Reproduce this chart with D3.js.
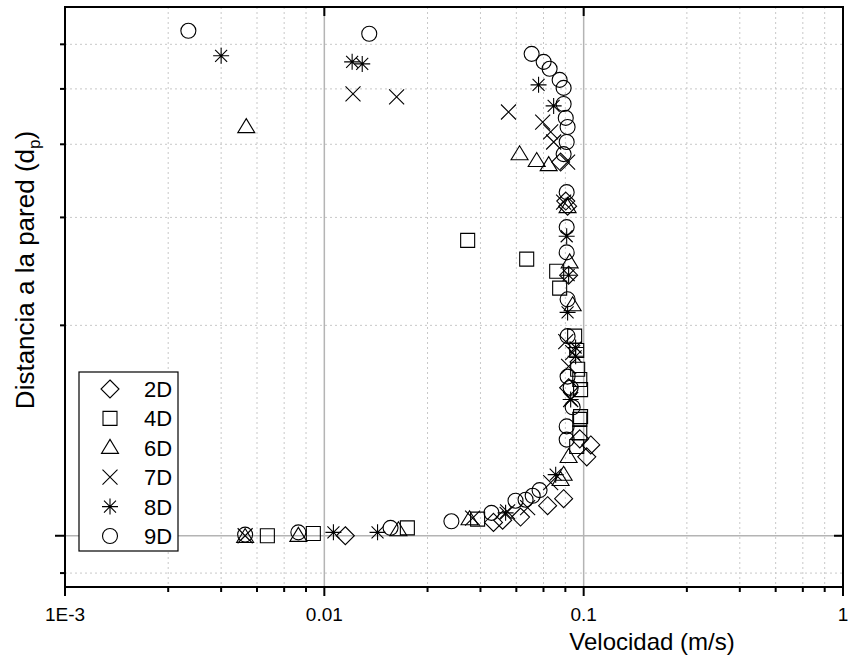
<!DOCTYPE html>
<html>
<head>
<meta charset="utf-8">
<script src="https://cdn.jsdelivr.net/npm/d3@7"></script>
<style>
  body { margin: 0; background: #fff; }
  svg { display: block; font-family: "Liberation Sans", Arial, sans-serif; }
</style>
</head>
<body>
<svg id="chart" width="848" height="660"></svg>
<script>
// Series data: [velocity (m/s), distance to wall (d_p)]
const s2D = [[0.01205, 2.00], [0.0449, 2.12], [0.0487, 2.14], [0.0571, 2.17], [0.0726, 2.28], [0.0837, 2.35],
  [0.1028, 2.82], [0.1065, 2.97], [0.0966, 3.05], [0.0875, 3.81], [0.0867, 8.40], [0.0853, 8.59], [0.0815, 10.18], [0.0875, 6.22]];
const s4D = [[0.00603, 2.00], [0.00907, 2.02], [0.0209, 2.07], [0.0390, 2.15], [0.0357, 7.24], [0.0603, 6.67],
  [0.0787, 6.33], [0.0808, 5.88], [0.0923, 4.77], [0.0940, 4.48], [0.0948, 4.13], [0.0966, 3.95], [0.0973, 3.78],
  [0.0973, 3.36], [0.0966, 3.32], [0.0966, 3.13], [0.0940, 2.95]];
const s6D = [[0.00495, 1.99], [0.00794, 2.00], [0.0193, 2.05], [0.0363, 2.15], [0.0815, 2.55], [0.0837, 2.61],
  [0.0875, 2.82], [0.0883, 6.58], [0.0907, 5.46], [0.0659, 10.23], [0.0566, 10.54], [0.0733, 10.05], [0.0867, 8.37], [0.0050, 11.86]];
const s7D = [[0.00495, 2.00], [0.0373, 2.16], [0.0509, 2.22], [0.0608, 2.26], [0.0746, 2.52], [0.0129, 13.70],
  [0.0190, 13.52], [0.0513, 12.66], [0.0695, 12.12], [0.0746, 11.61], [0.0766, 11.11], [0.0867, 10.18],
  [0.0837, 8.55], [0.0853, 4.66], [0.0907, 4.44], [0.0875, 4.18], [0.0891, 3.62]];
const s8D = [[0.01084, 2.03], [0.01604, 2.03], [0.0500, 2.21], [0.0780, 2.61], [0.0128, 15.75], [0.0140, 15.61],
  [0.00400, 16.17], [0.0670, 14.25], [0.0766, 13.00], [0.0860, 7.37], [0.0875, 6.22], [0.0867, 5.29],
  [0.0931, 4.54], [0.0931, 4.37], [0.0891, 3.62]];
const s9D = [[0.00495, 2.01], [0.00794, 2.03], [0.0180, 2.07], [0.0309, 2.13], [0.0441, 2.21], [0.0546, 2.33],
  [0.0597, 2.34], [0.0636, 2.38], [0.0676, 2.44], [0.0149, 17.80], [0.00299, 18.03], [0.0630, 16.31],
  [0.0701, 15.75], [0.0739, 15.28], [0.0808, 14.56], [0.0837, 14.06], [0.0837, 13.11], [0.0853, 12.34],
  [0.0867, 11.86], [0.0860, 11.11], [0.0837, 10.54], [0.0860, 8.93], [0.0860, 7.67], [0.0860, 6.87],
  [0.0867, 5.60], [0.0867, 4.77], [0.0867, 4.00], [0.0891, 3.81], [0.0907, 3.50], [0.0860, 3.22], [0.0860, 3.04]];

const seriesNames = ["2D", "4D", "6D", "7D", "8D", "9D"];
const seriesShapes = ["diamond", "square", "triangle", "x", "star", "circle"];
const seriesData = [s2D, s4D, s6D, s7D, s8D, s9D];

const xMajorTicks = [0.001, 0.01, 0.1, 1];
const xTickLabels = ["1E-3", "0.01", "0.1", "1"];
const xMinorSteps = [2.5, 4, 5.5, 7, 8.5];
const yMajorTicks = [2];
const yMinorTicks = [1.7, 5, 8, 11, 14, 17];

const xTitle = "Velocidad (m/s)";

// Layout
const plot = { left: 65, right: 843, top: 7, bottom: 587 };

const x = d3.scaleLog().domain([0.001, 1]).range([plot.left, plot.right]);
const y = d3.scaleLog().domain([1.6, 20]).range([plot.bottom, plot.top]);

const svg = d3.select("#chart");

const xMinorTicks = [];
xMajorTicks.slice(0, -1).forEach(m => xMinorSteps.forEach(s => xMinorTicks.push(m * s)));

// Grid
const grid = svg.append("g");
grid.selectAll(".gx-minor").data(xMinorTicks).join("line")
  .attr("x1", d => x(d)).attr("x2", d => x(d))
  .attr("y1", plot.top).attr("y2", plot.bottom)
  .attr("stroke", "#c8c8c8").attr("stroke-width", 1).attr("stroke-dasharray", "2,3");
grid.selectAll(".gy-minor").data(yMinorTicks).join("line")
  .attr("y1", d => y(d)).attr("y2", d => y(d))
  .attr("x1", plot.left).attr("x2", plot.right)
  .attr("stroke", "#c8c8c8").attr("stroke-width", 1).attr("stroke-dasharray", "2,3");
grid.selectAll(".gx-major").data([0.01, 0.1]).join("line")
  .attr("x1", d => x(d)).attr("x2", d => x(d))
  .attr("y1", plot.top).attr("y2", plot.bottom)
  .attr("stroke", "#b4b4b4").attr("stroke-width", 1.5);
grid.selectAll(".gy-major").data(yMajorTicks).join("line")
  .attr("y1", d => y(d)).attr("y2", d => y(d))
  .attr("x1", plot.left).attr("x2", plot.right)
  .attr("stroke", "#b4b4b4").attr("stroke-width", 1.5);

// Marker paths
function markerPath(shape) {
  switch (shape) {
    case "diamond": { const r = 9; return `M0,${-r}L${r},0L0,${r}L${-r},0Z`; }
    case "square": { const r = 7; return `M${-r},${-r}H${r}V${r}H${-r}Z`; }
    case "triangle": { const w = 8.5, h = 14; return `M0,${-h * 0.6}L${w},${h * 0.4}L${-w},${h * 0.4}Z`; }
    case "x": { const r = 7.5; return `M${-r},${-r}L${r},${r}M${-r},${r}L${r},${-r}`; }
    case "star": { const r = 8, d = 6; return `M0,${-r}V${r}M${-d},${-d}L${d},${d}M${-d},${d}L${d},${-d}M${-r},0H${r}`; }
    default: { const r = 7.5; return `M${r},0A${r},${r} 0 1,1 ${-r},0A${r},${r} 0 1,1 ${r},0Z`; }
  }
}

// Points
seriesData.forEach((data, i) => {
  svg.append("g").selectAll("path").data(data).join("path")
    .attr("transform", d => `translate(${x(d[0])},${y(d[1])})`)
    .attr("d", markerPath(seriesShapes[i]))
    .attr("fill", "none")
    .attr("stroke", "#000")
    .attr("stroke-width", 1.1);
});

// Axes frame
const axes = svg.append("g").attr("stroke", "#000");
axes.append("rect").attr("x", plot.left).attr("y", plot.top)
  .attr("width", plot.right - plot.left).attr("height", plot.bottom - plot.top)
  .attr("fill", "none").attr("stroke-width", 2);

// Bottom ticks
axes.selectAll(".xt-major").data(xMajorTicks).join("line")
  .attr("x1", d => x(d)).attr("x2", d => x(d)).attr("y1", plot.bottom).attr("y2", plot.bottom + 9).attr("stroke-width", 2);
axes.selectAll(".xt-minor").data(xMinorTicks).join("line")
  .attr("x1", d => x(d)).attr("x2", d => x(d)).attr("y1", plot.bottom).attr("y2", plot.bottom + 5).attr("stroke-width", 2);
// Top ticks (inward, major)
axes.selectAll(".xt-top").data(xMajorTicks).join("line")
  .attr("x1", d => x(d)).attr("x2", d => x(d)).attr("y1", plot.top).attr("y2", plot.top + 9).attr("stroke-width", 2);
// Left ticks
axes.selectAll(".yt-major").data(yMajorTicks).join("line")
  .attr("y1", d => y(d)).attr("y2", d => y(d)).attr("x1", plot.left - 10).attr("x2", plot.left).attr("stroke-width", 2);
axes.selectAll(".yt-minor").data(yMinorTicks).join("line")
  .attr("y1", d => y(d)).attr("y2", d => y(d)).attr("x1", plot.left - 5).attr("x2", plot.left).attr("stroke-width", 2);
// Right ticks (inward, major)
axes.selectAll(".yt-right").data(yMajorTicks).join("line")
  .attr("y1", d => y(d)).attr("y2", d => y(d)).attr("x1", plot.right - 9).attr("x2", plot.right).attr("stroke-width", 2);

// Tick labels
svg.append("g").selectAll("text").data(xMajorTicks).join("text")
  .attr("x", d => x(d)).attr("y", 621)
  .attr("text-anchor", "middle").attr("font-size", 19)
  .text((d, i) => xTickLabels[i]);

// Axis titles
svg.append("text").attr("x", 652).attr("y", 650).attr("text-anchor", "middle")
  .attr("font-size", 24).text(xTitle);

const yt = svg.append("text")
  .attr("transform", "translate(34,270) rotate(-90)")
  .attr("text-anchor", "middle").attr("font-size", 26);
yt.append("tspan").text("Distancia a la pared (d");
yt.append("tspan").attr("font-size", 17).attr("dy", 6).text("p");
yt.append("tspan").attr("dy", -6).text(")");

// Legend
const legend = svg.append("g");
legend.append("rect").attr("x", 79).attr("y", 372).attr("width", 99).attr("height", 179)
  .attr("fill", "#fff").attr("stroke", "#000").attr("stroke-width", 1.2);
const rows = legend.selectAll(".row").data(seriesNames).join("g")
  .attr("transform", (d, i) => `translate(0,${389 + i * 29.4})`);
rows.append("path").attr("transform", "translate(110,0)")
  .attr("d", (d, i) => markerPath(seriesShapes[i]))
  .attr("fill", "none").attr("stroke", "#000").attr("stroke-width", 1.1);
rows.append("text").attr("x", 144).attr("y", 8).attr("font-size", 22).text(d => d);
</script>
</body>
</html>
